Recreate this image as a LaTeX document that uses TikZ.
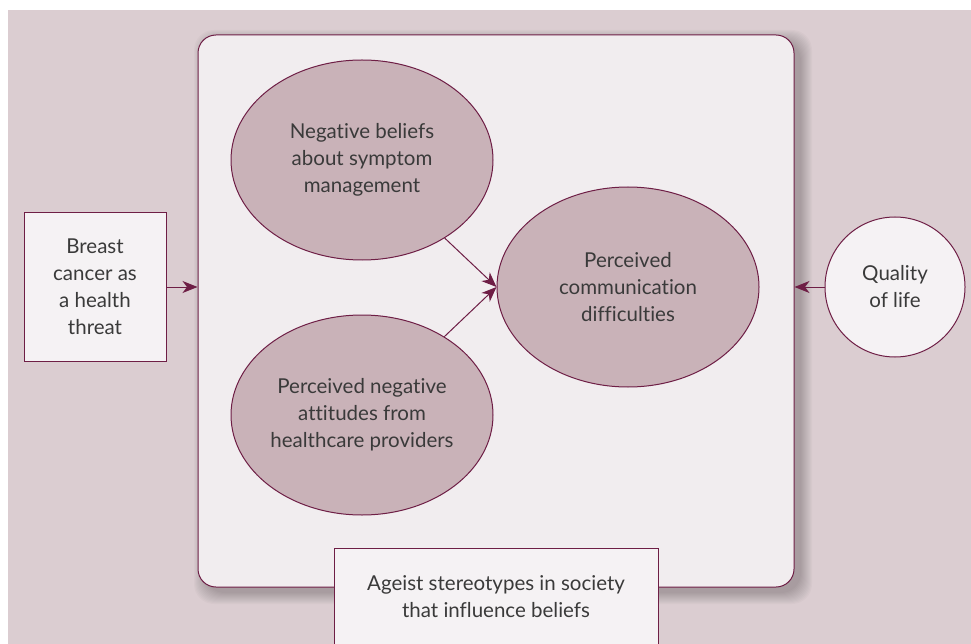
\documentclass[tikz,border=0pt]{standalone}
\usepackage{fontspec}
\setmainfont{Lato}[Ligatures={NoCommon}]
\usepackage{xcolor}
\usetikzlibrary{arrows.meta,shapes.geometric}

\definecolor{plum}{HTML}{6E1E45}
\definecolor{bgmauve}{HTML}{DBCDD1}
\definecolor{framefill}{HTML}{F1EDEF}
\definecolor{ovalfill}{HTML}{C9B2B8}
\definecolor{boxfill}{HTML}{F5F2F4}
\definecolor{inktext}{HTML}{3A3A3A}

\begin{document}
\begin{tikzpicture}[x=1pt,y=-1pt,
  every node/.style={text=inktext, font=\fontsize{20.5}{27}\selectfont, align=center},
  oval/.style={ellipse, draw=plum, fill=ovalfill, line width=1pt,
    minimum width=262pt, minimum height=200pt, inner sep=0pt},
  plainbox/.style={rectangle, draw=plum, fill=boxfill, line width=1pt, inner sep=0pt},
  link/.style={-{Stealth[length=15pt,width=12pt,inset=4.5pt]}, draw=plum, line width=1pt}]
\useasboundingbox (0,0) rectangle (971,644);
\fill[white] (0,0) rectangle (971,644);
\fill[bgmauve] (8,10) rectangle (971,644);

% soft shadow under the frame
\foreach \g in {0,...,11}
  \fill[black, opacity=0.018, rounded corners=20pt]
    (198+7-\g, 35+6-\g) rectangle (794+7+\g, 587+6+\g);

\node[rectangle, draw=plum, fill=framefill, line width=1pt, rounded corners=18pt,
  minimum width=596pt, minimum height=552pt] (frame) at (496,311) {};

\node[plainbox, minimum width=142pt, minimum height=148pt] (threat) at (95,287)
  {Breast\\cancer as\\a health\\threat};

\node[oval] (beliefs) at (362,160) {Negative beliefs\\about symptom\\management};
\node[oval] (attitudes) at (362,415) {Perceived negative\\attitudes from\\healthcare providers};
\node[oval] (comm) at (628,287) {Perceived\\communication\\difficulties};

\node[circle, draw=plum, fill=boxfill, line width=1pt, minimum size=140pt] (quality) at (895,287)
  {Quality\\of life};

\node[plainbox, minimum width=324pt, minimum height=98pt] (ageist) at (496,597)
  {Ageist stereotypes in society\\that influence beliefs};

\draw[link] (threat.east) -- (threat.east -| frame.west);
\draw[link] (quality.west) -- (quality.west -| frame.east);
\draw[link] (beliefs) -- (comm.west);
\draw[link] (attitudes) -- (comm.west);
\end{tikzpicture}
\end{document}
